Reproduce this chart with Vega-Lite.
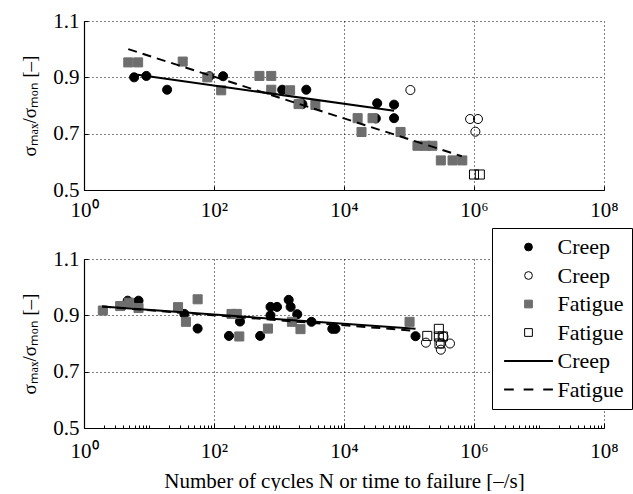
{
  "$schema": "https://vega.github.io/schema/vega-lite/v6.json",
  "padding": {"left": 20, "top": 10, "right": 0, "bottom": 0},
  "config": {
    "font": "Liberation Serif",
    "view": {"stroke": null},
    "axis": {
      "labelFont": "Liberation Serif", "titleFont": "Liberation Serif",
      "labelColor": "black", "titleColor": "black", "domainColor": "black", "tickColor": "black",
      "gridColor": "black", "gridDash": [1, 3], "gridOpacity": 1, "gridWidth": 1, "labelFlush": false,
      "labelFontSize": 21, "titleFontSize": 21, "titleFontWeight": "normal", "domainWidth": 1.2
    },
    "legend": {"labelFont": "Liberation Serif"},
    "concat": {"spacing": 7}
  },
  "resolve": {"legend": {"shape": "independent", "fill": "independent", "stroke": "independent"}},
  "datasets": {
    "pts": [
      {"panel": "top", "series": "a", "x": 5.9, "y": 0.900},
      {"panel": "top", "series": "a", "x": 9.1, "y": 0.905},
      {"panel": "top", "series": "a", "x": 19, "y": 0.856},
      {"panel": "top", "series": "a", "x": 85, "y": 0.904},
      {"panel": "top", "series": "a", "x": 138, "y": 0.904},
      {"panel": "top", "series": "a", "x": 1120, "y": 0.856},
      {"panel": "top", "series": "a", "x": 2630, "y": 0.856},
      {"panel": "top", "series": "a", "x": 2290, "y": 0.805},
      {"panel": "top", "series": "a", "x": 32400, "y": 0.808},
      {"panel": "top", "series": "a", "x": 30900, "y": 0.754},
      {"panel": "top", "series": "a", "x": 58900, "y": 0.803},
      {"panel": "top", "series": "a", "x": 58900, "y": 0.755},
      {"panel": "top", "series": "b", "x": 105000, "y": 0.855},
      {"panel": "top", "series": "b", "x": 871000, "y": 0.752},
      {"panel": "top", "series": "b", "x": 1150000, "y": 0.752},
      {"panel": "top", "series": "b", "x": 1050000, "y": 0.707},
      {"panel": "top", "series": "c", "x": 4.8, "y": 0.953},
      {"panel": "top", "series": "c", "x": 6.8, "y": 0.953},
      {"panel": "top", "series": "c", "x": 33, "y": 0.956},
      {"panel": "top", "series": "c", "x": 79, "y": 0.900},
      {"panel": "top", "series": "c", "x": 129, "y": 0.854},
      {"panel": "top", "series": "c", "x": 500, "y": 0.905},
      {"panel": "top", "series": "c", "x": 760, "y": 0.905},
      {"panel": "top", "series": "c", "x": 760, "y": 0.856},
      {"panel": "top", "series": "c", "x": 1480, "y": 0.854},
      {"panel": "top", "series": "c", "x": 2000, "y": 0.805},
      {"panel": "top", "series": "c", "x": 3630, "y": 0.802},
      {"panel": "top", "series": "c", "x": 16200, "y": 0.755},
      {"panel": "top", "series": "c", "x": 18600, "y": 0.706},
      {"panel": "top", "series": "c", "x": 27500, "y": 0.755},
      {"panel": "top", "series": "c", "x": 74100, "y": 0.706},
      {"panel": "top", "series": "c", "x": 135000, "y": 0.657},
      {"panel": "top", "series": "c", "x": 178000, "y": 0.657},
      {"panel": "top", "series": "c", "x": 229000, "y": 0.657},
      {"panel": "top", "series": "c", "x": 309000, "y": 0.605},
      {"panel": "top", "series": "c", "x": 468000, "y": 0.605},
      {"panel": "top", "series": "c", "x": 661000, "y": 0.605},
      {"panel": "top", "series": "d", "x": 1000000, "y": 0.555},
      {"panel": "top", "series": "d", "x": 1230000, "y": 0.555},
      {"panel": "bottom", "series": "a", "x": 4.7, "y": 0.952},
      {"panel": "bottom", "series": "a", "x": 6.9, "y": 0.952},
      {"panel": "bottom", "series": "a", "x": 35, "y": 0.905},
      {"panel": "bottom", "series": "a", "x": 56, "y": 0.853},
      {"panel": "bottom", "series": "a", "x": 170, "y": 0.827},
      {"panel": "bottom", "series": "a", "x": 251, "y": 0.878},
      {"panel": "bottom", "series": "a", "x": 513, "y": 0.827},
      {"panel": "bottom", "series": "a", "x": 740, "y": 0.930},
      {"panel": "bottom", "series": "a", "x": 740, "y": 0.900},
      {"panel": "bottom", "series": "a", "x": 933, "y": 0.930},
      {"panel": "bottom", "series": "a", "x": 1410, "y": 0.955},
      {"panel": "bottom", "series": "a", "x": 1510, "y": 0.930},
      {"panel": "bottom", "series": "a", "x": 1910, "y": 0.904},
      {"panel": "bottom", "series": "a", "x": 3160, "y": 0.877},
      {"panel": "bottom", "series": "a", "x": 6610, "y": 0.852},
      {"panel": "bottom", "series": "a", "x": 7400, "y": 0.852},
      {"panel": "bottom", "series": "a", "x": 126000, "y": 0.826},
      {"panel": "bottom", "series": "b", "x": 182000, "y": 0.803},
      {"panel": "bottom", "series": "b", "x": 309000, "y": 0.778},
      {"panel": "bottom", "series": "b", "x": 427000, "y": 0.800},
      {"panel": "bottom", "series": "b", "x": 309000, "y": 0.800},
      {"panel": "bottom", "series": "b", "x": 339000, "y": 0.825},
      {"panel": "bottom", "series": "c", "x": 1.95, "y": 0.917},
      {"panel": "bottom", "series": "c", "x": 3.6, "y": 0.933},
      {"panel": "bottom", "series": "c", "x": 4.9, "y": 0.945},
      {"panel": "bottom", "series": "c", "x": 6.9, "y": 0.926},
      {"panel": "bottom", "series": "c", "x": 28, "y": 0.929},
      {"panel": "bottom", "series": "c", "x": 37, "y": 0.877},
      {"panel": "bottom", "series": "c", "x": 56, "y": 0.957},
      {"panel": "bottom", "series": "c", "x": 186, "y": 0.905},
      {"panel": "bottom", "series": "c", "x": 224, "y": 0.905},
      {"panel": "bottom", "series": "c", "x": 245, "y": 0.825},
      {"panel": "bottom", "series": "c", "x": 676, "y": 0.853},
      {"panel": "bottom", "series": "c", "x": 1580, "y": 0.877},
      {"panel": "bottom", "series": "c", "x": 2140, "y": 0.851},
      {"panel": "bottom", "series": "c", "x": 102000, "y": 0.877},
      {"panel": "bottom", "series": "d", "x": 191000, "y": 0.827},
      {"panel": "bottom", "series": "d", "x": 288000, "y": 0.852},
      {"panel": "bottom", "series": "d", "x": 288000, "y": 0.825},
      {"panel": "bottom", "series": "d", "x": 331000, "y": 0.825},
      {"panel": "bottom", "series": "d", "x": 295000, "y": 0.800}
    ],
    "lines": [
      {"panel": "top", "series": "e", "x": 5.9, "y": 0.911},
      {"panel": "top", "series": "e", "x": 58900, "y": 0.781},
      {"panel": "top", "series": "f", "x": 4.8, "y": 1.0},
      {"panel": "top", "series": "f", "x": 650000, "y": 0.62},
      {"panel": "bottom", "series": "e", "x": 1.9, "y": 0.931},
      {"panel": "bottom", "series": "e", "x": 126000, "y": 0.852},
      {"panel": "bottom", "series": "f", "x": 1.9, "y": 0.931},
      {"panel": "bottom", "series": "f", "x": 126000, "y": 0.845}
    ]
  },
  "vconcat": [
    {
      "width": 520, "height": 169,
      "encoding": {
        "x": {"field": "x", "type": "quantitative",
          "scale": {"type": "log", "domain": [1, 100000000], "nice": false},
          "axis": {"title": null, "values": [1, 100, 10000, 1000000, 100000000], "tickSize": -4, "labelPadding": 13,
            "labelExpr": "'10' + ['⁰','¹','²','³','⁴','⁵','⁶','⁷','⁸'][round(log(datum.value)/LN10)]"}},
        "y": {"field": "y", "type": "quantitative",
          "scale": {"domain": [0.5, 1.1], "nice": false, "zero": false},
          "axis": {"title": "σₘₐₓ/σₘₒₙ [–]", "titleFontSize": 19, "values": [0.5, 0.7, 0.9, 1.1], "format": ".1f", "tickSize": -4, "labelPadding": 9, "titlePadding": 13}}
      },
      "layer": [
        {"data": {"name": "pts"}, "transform": [{"filter": "datum.panel == 'top'"}],
          "mark": {"type": "point", "opacity": 1, "strokeWidth": 1, "size": 82},
          "encoding": {
            "shape": {"field": "series", "type": "nominal", "scale": {"domain": ["a", "b", "c", "d", "e", "f"], "range": ["circle", "circle", "square", "square", "M-6.3,-0.26H6.3V0.26H-6.3Z", "M-6.3,-0.26H-3.8V0.26H-6.3ZM-1.25,-0.26H1.25V0.26H-1.25ZM3.8,-0.26H6.3V0.26H3.8Z"]}, "legend": null},
            "fill": {"field": "series", "type": "nominal", "scale": {"domain": ["a", "b", "c", "d", "e", "f"], "range": ["black", "transparent", "#6e6e6e", "transparent", "black", "black"]}, "legend": null},
            "stroke": {"field": "series", "type": "nominal", "scale": {"domain": ["a", "b", "c", "d", "e", "f"], "range": ["black", "black", "#6e6e6e", "black", "transparent", "transparent"]}, "legend": null}
          }},
        {"data": {"name": "lines"}, "transform": [{"filter": "datum.panel == 'top' && datum.series == 'e'"}],
          "mark": {"type": "line", "color": "black", "strokeWidth": 2}, "encoding": {}},
        {"data": {"name": "lines"}, "transform": [{"filter": "datum.panel == 'top' && datum.series == 'f'"}],
          "mark": {"type": "line", "color": "black", "strokeWidth": 2, "strokeDash": [9, 6]}, "encoding": {}}
      ]
    },
    {
      "width": 520, "height": 169,
      "encoding": {
        "x": {"field": "x", "type": "quantitative",
          "scale": {"type": "log", "domain": [1, 100000000], "nice": false},
          "axis": {"title": "Number of cycles N or time to failure [–/s]", "titlePadding": 9, "labelPadding": 17,
            "values": [1,2,3,4,5,6,7,8,9,10,20,30,40,50,60,70,80,90,100,200,300,400,500,600,700,800,900,1000,2000,3000,4000,5000,6000,7000,8000,9000,10000,20000,30000,40000,50000,60000,70000,80000,90000,100000,200000,300000,400000,500000,600000,700000,800000,900000,1000000,2000000,3000000,4000000,5000000,6000000,7000000,8000000,9000000,10000000,20000000,30000000,40000000,50000000,60000000,70000000,80000000,90000000,100000000],
            "labelExpr": "indexof([1,100,10000,1000000,100000000], datum.value) >= 0 ? '10' + ['⁰','¹','²','³','⁴','⁵','⁶','⁷','⁸'][round(log(datum.value)/LN10)] : ''",
            "tickSize": {"condition": {"test": "indexof([1,100,10000,1000000,100000000], datum.value) >= 0", "value": -5}, "value": -3},
            "gridOpacity": {"condition": {"test": "indexof([1,100,10000,1000000,100000000], datum.value) >= 0", "value": 1}, "value": 0}}},
        "y": {"field": "y", "type": "quantitative",
          "scale": {"domain": [0.5, 1.1], "nice": false, "zero": false},
          "axis": {"title": "σₘₐₓ/σₘₒₙ [–]", "titleFontSize": 19, "values": [0.5, 0.7, 0.9, 1.1], "format": ".1f", "tickSize": -4, "labelPadding": 9, "titlePadding": 13}}
      },
      "layer": [
        {"data": {"name": "pts"}, "transform": [{"filter": "datum.panel == 'bottom'"}],
          "mark": {"type": "point", "opacity": 1, "strokeWidth": 1, "size": 82},
          "encoding": {
            "shape": {"field": "series", "type": "nominal", "scale": {"domain": ["a", "b", "c", "d", "e", "f"], "range": ["circle", "circle", "square", "square", "M-6.3,-0.26H6.3V0.26H-6.3Z", "M-6.3,-0.26H-3.8V0.26H-6.3ZM-1.25,-0.26H1.25V0.26H-1.25ZM3.8,-0.26H6.3V0.26H3.8Z"]},
              "legend": {"orient": "none", "legendX": 408, "legendY": -31, "title": null,
                "labelFontSize": 22, "labelFont": "Liberation Serif", "labelColor": "black",
                "symbolSize": 60, "symbolStrokeWidth": 1, "rowPadding": 6.5, "padding": 8,
                "strokeColor": "black", "fillColor": "white", "symbolOffset": 17.5, "labelOffset": 18,
                "labelExpr": "datum.value == 'a' || datum.value == 'b' || datum.value == 'e' ? 'Creep' : 'Fatigue'"}},
            "fill": {"field": "series", "type": "nominal", "scale": {"domain": ["a", "b", "c", "d", "e", "f"], "range": ["black", "transparent", "#6e6e6e", "transparent", "black", "black"]}},
            "stroke": {"field": "series", "type": "nominal", "scale": {"domain": ["a", "b", "c", "d", "e", "f"], "range": ["black", "black", "#6e6e6e", "black", "transparent", "transparent"]}}
          }},
        {"data": {"name": "lines"}, "transform": [{"filter": "datum.panel == 'bottom' && datum.series == 'e'"}],
          "mark": {"type": "line", "color": "black", "strokeWidth": 2}, "encoding": {}},
        {"data": {"name": "lines"}, "transform": [{"filter": "datum.panel == 'bottom' && datum.series == 'f'"}],
          "mark": {"type": "line", "color": "black", "strokeWidth": 2, "strokeDash": [9, 6]}, "encoding": {}}
      ]
    }
  ]
}
